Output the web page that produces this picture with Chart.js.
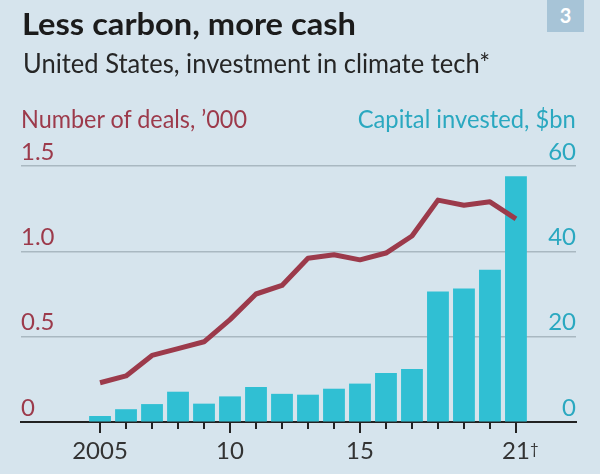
<!DOCTYPE html>
<html>
<head>
<meta charset="utf-8">
<script src="https://cdn.jsdelivr.net/npm/chart.js@4"></script>
<style>
  html, body { margin: 0; padding: 0; background: #d6e4ed; }
  #wrap { position: relative; width: 600px; height: 474px; overflow: hidden; background: #d6e4ed; font-family: Lato, 'Open Sans', sans-serif; }
  #chart { position: absolute; left: 0; top: 0; }
  .txt { position: absolute; white-space: nowrap; line-height: 1; transform-origin: 0 0; }
  #title    { left: 22px; top: 8px;   font-size: 30px; font-weight: 700; color: #1b1b1b; }
  #subtitle { left: 23px; top: 49px;  font-size: 27px; color: #262626; }
  #deals    { left: 21px; top: 106px; font-size: 25px; color: #9c3a4b; }
  #capital  { right: 24px; top: 106px; font-size: 25px; color: #2aa8c0; transform-origin: 100% 0; }
  #badge { position: absolute; left: 547px; top: 0; width: 37px; height: 32px; background: #a7c4d7;
           color: #fff; font-weight: 700; font-size: 20px; text-align: center; line-height: 31px; }
</style>
</head>
<body>
<div id="wrap">
  <canvas id="chart" width="600" height="474"></canvas>
  <div class="txt" id="title" data-w="334">Less carbon, more cash</div>
  <div class="txt" id="subtitle" data-w="467">United States, investment in climate tech*</div>
  <div class="txt" id="deals" data-w="226">Number of deals, ’000</div>
  <div class="txt" id="capital" data-w="218">Capital invested, $bn</div>
  <div id="badge">3</div>
</div>
<script>
// ── Data ─────────────────────────────────────────────────
const years   = [2005, 2006, 2007, 2008, 2009, 2010, 2011, 2012, 2013,
                 2014, 2015, 2016, 2017, 2018, 2019, 2020, 2021];
const deals   = [0.23, 0.27, 0.39, 0.43, 0.47, 0.60, 0.75, 0.80, 0.96,
                 0.98, 0.95, 0.99, 1.09, 1.30, 1.27, 1.29, 1.19];   // '000
const capital = [1.4, 3.0, 4.2, 7.1, 4.3, 6.0, 8.2, 6.6, 6.4,
                 7.8, 9.0, 11.5, 12.4, 30.6, 31.3, 35.7, 57.6];    // $bn

const xTickYears  = [2005, 2010, 2015, 2021];
const xTickLabels = ['2005', '10', '15', '21'];
const dealsTicks   = [0, 0.5, 1.0, 1.5];
const capitalTicks = [0, 20, 40, 60];

// ── Colours ──────────────────────────────────────────────
const RED  = '#9c3a4b';
const CYAN = '#30bfd3';
const CYAN_TEXT = '#2aa8c0';
const GRID = '#a9b8c1';
const INK  = '#222222';

// ── Squeeze header text to the condensed widths ──────────
function fitText() {
  document.querySelectorAll('[data-w]').forEach((e) => {
    e.style.transform = 'none';
    const w = e.getBoundingClientRect().width;
    e.style.transform = 'scaleX(' + (+e.dataset.w / w) + ')';
  });
}
fitText();

// ── Year tick marks + dagger on the last label ───────────
const tickMarks = {
  id: 'tickMarks',
  afterDraw(chart) {
    const { ctx } = chart;
    const xs = chart.scales.x;
    const base = chart.chartArea.bottom;
    ctx.save();
    ctx.strokeStyle = INK;
    ctx.lineWidth = 2;
    years.forEach((yr) => {
      const x = Math.round(xs.getPixelForValue(yr));
      const len = xTickYears.includes(yr) ? 11 : 7;
      ctx.beginPath(); ctx.moveTo(x, base); ctx.lineTo(x, base + len); ctx.stroke();
    });
    const last = xs.getPixelForValue(xTickYears[xTickYears.length - 1]);
    ctx.fillStyle = '#333';
    ctx.font = '15px Lato, sans-serif';
    ctx.textAlign = 'left';
    ctx.textBaseline = 'alphabetic';
    ctx.fillText('†', last + 14, 454);
    ctx.restore();
  }
};

new Chart(document.getElementById('chart'), {
  type: 'bar',
  data: {
    labels: years,
    datasets: [
      {
        type: 'line', label: 'Number of deals', data: deals, yAxisID: 'y',
        borderColor: RED, borderWidth: 5, pointRadius: 0, tension: 0,
        borderJoinStyle: 'round', order: 0
      },
      {
        type: 'bar', label: 'Capital invested', data: capital, yAxisID: 'y1',
        backgroundColor: CYAN, borderWidth: 0,
        categoryPercentage: 1, barPercentage: 0.84, order: 1
      }
    ]
  },
  options: {
    responsive: false, animation: false, devicePixelRatio: 1,
    layout: { padding: { left: 21, right: 24, top: 166, bottom: 0 } },
    plugins: { legend: { display: false }, tooltip: { enabled: false } },
    scales: {
      x: {
        type: 'linear', min: 2001.96, max: 2023.31, bounds: 'data', offset: false, z: 1,
        afterBuildTicks: (s) => { s.ticks = years.map((v) => ({ value: v })); },
        afterFit: (s) => { s.height = 52; },
        grid: { display: false, drawTicks: false },
        border: { display: true, color: INK, width: 2 },
        ticks: {
          autoSkip: false, maxRotation: 0, padding: 20, color: '#333',
          font: { family: 'Lato', size: 24, lineHeight: 0.8 },
          callback: (v) => { const i = xTickYears.indexOf(v); return i < 0 ? '' : xTickLabels[i]; }
        }
      },
      y: {
        position: 'left', min: 0, max: 1.5,
        afterBuildTicks: (s) => { s.ticks = dealsTicks.map((v) => ({ value: v })); },
        border: { display: false },
        grid: {
          drawTicks: false, lineWidth: 1.5,
          color: (c) => (c.tick && c.tick.value === 0 ? 'rgba(0,0,0,0)' : GRID)
        },
        ticks: {
          mirror: true, padding: 0, labelOffset: -14, color: RED,
          font: { family: 'Lato', size: 24 },
          callback: (v) => (v === 0 ? '0' : v.toFixed(1))
        }
      },
      y1: {
        position: 'right', min: 0, max: 60,
        afterBuildTicks: (s) => { s.ticks = capitalTicks.map((v) => ({ value: v })); },
        border: { display: false },
        grid: { drawOnChartArea: false, drawTicks: false },
        ticks: {
          mirror: true, padding: 0, labelOffset: -14, color: CYAN_TEXT,
          font: { family: 'Lato', size: 24 }
        }
      }
    }
  },
  plugins: [tickMarks]
});
</script>
</body>
</html>
